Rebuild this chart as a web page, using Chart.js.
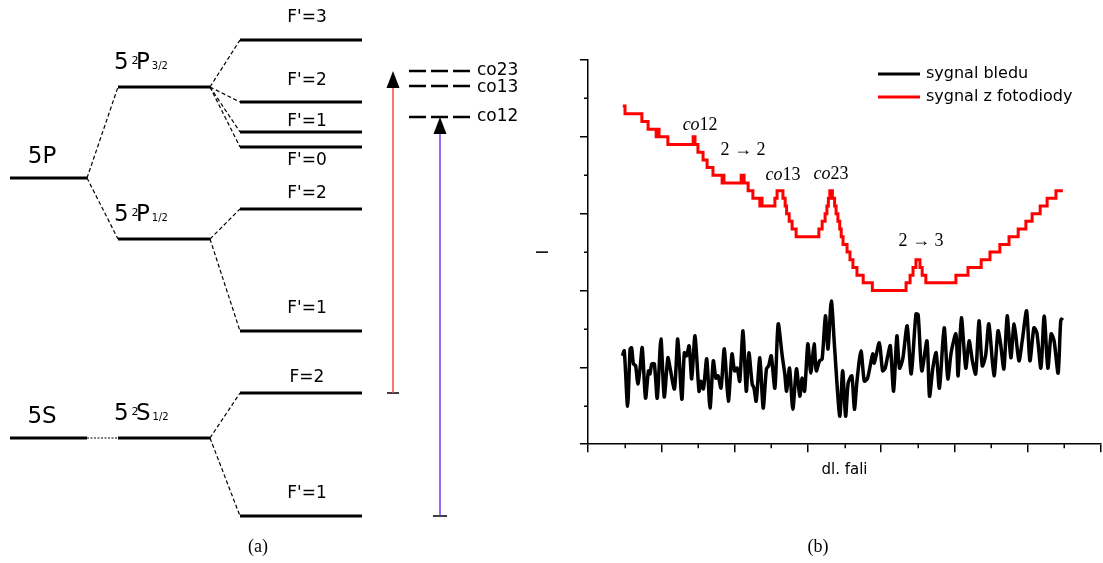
<!DOCTYPE html>
<html>
<head>
<meta charset="utf-8">
<script src="https://cdn.jsdelivr.net/npm/chart.js@4.4.1/dist/chart.umd.min.js"></script>
<style>
  html, body { margin: 0; padding: 0; background: #fff; }
  #wrap { position: relative; width: 1103px; height: 563px; overflow: hidden; }
  #levels { position: absolute; left: 0; top: 0; }
  #signal { position: absolute; left: 520px; top: 0; }
  .cap { position: absolute; top: 536px; width: 60px; text-align: center;
         font: 18px 'Liberation Serif', 'DejaVu Serif', serif; line-height: 20px; }
</style>
</head>
<body>
<div id="wrap">
  <canvas id="levels" width="530" height="563" style="width:530px;height:563px"></canvas>
  <canvas id="signal" width="583" height="563" style="width:583px;height:563px"></canvas>
  <div class="cap" style="left:228px">(a)</div>
  <div class="cap" style="left:788px">(b)</div>
</div>
<script>
const sans = "'DejaVu Sans', sans-serif"
const serif = "'Liberation Serif', 'DejaVu Serif', serif"

// ---- (a) level scheme, energies in arbitrary units (up = higher) ----
const termNames = ["5P", "5S"]
const termEnergy = [385, 125]
const fineNames = [["P", "3/2"], ["P", "1/2"], ["S", "1/2"]]
const fineEnergy = [476, 324, 125]
const fineParent = [0, 0, 1]
const hfsNames = ["F'=3", "F'=2", "F'=1", "F'=0", "F'=2", "F'=1", "F=2", "F'=1"]
const hfsEnergy = [523, 461, 431, 416, 354, 232, 170, 47]
const hfsParent = [0, 0, 0, 0, 1, 1, 2, 2]
const crossNames = ["co23", "co13", "co12"]
const crossEnergy = [492, 477, 446]

// ---- (b) spectra ----
const blackX = [9.4, 9.9, 10.8, 11.5, 11.9, 12.4, 13.0, 13.6, 14.2, 14.8,
  15.7, 16.5, 16.9, 17.4, 18.1, 18.9, 19.9, 20.8, 21.8, 22.4,
  23.6, 24.5, 25.6, 26.3, 26.9, 27.6, 28.3, 29.2, 30.3, 30.8,
  31.5, 32.4, 33.3, 34.2, 34.9, 35.5, 36.3, 37.2, 38.3, 39.3,
  40.0, 40.7, 41.4, 42.3, 43.2, 43.9, 44.8, 45.3, 45.9, 46.9,
  47.8, 48.7, 49.3, 50.0, 51.0, 51.9, 53.0, 53.7, 54.2, 55.0,
  55.9, 56.9, 57.8, 58.4, 59.1, 60.0, 60.8, 61.7, 62.3, 63.2,
  63.9, 64.8, 65.5, 66.4, 67.3, 68.7, 69.5, 70.3, 71.0, 72.0,
  72.7, 73.4, 74.5, 75.4, 76.3, 77.7, 78.1, 79.5, 80.4, 81.1,
  81.8, 82.5, 83.4, 84.3, 85.0, 85.9, 87.1, 88.2, 89.5, 90.1,
  91.1, 92.5, 93.2, 94.1, 95.0, 95.9, 97.2, 98.2, 99.1, 100.4,
  101.0, 101.9, 103.1, 104.0, 104.9, 105.8, 106.7, 107.6, 108.5, 109.4,
  110.8, 111.9, 112.6, 113.5, 114.4, 115.4, 116.3, 117.6, 118.5, 119.7,
  120.6, 121.7, 122.5, 123.6, 124.5, 125.5, 126.4, 127.2, 128.3, 129.0,
  129.5]
const blackY = [2.30, 2.43, 0.99, 2.48, 2.51, 2.09, 2.04, 1.57, 1.96, 2.51,
  1.20, 1.91, 1.83, 2.09, 2.09, 1.20, 2.74, 1.23, 2.25, 1.98,
  1.44, 2.74, 1.17, 2.38, 2.30, 2.56, 1.70, 2.82, 1.38, 1.64,
  1.44, 2.22, 0.94, 2.17, 1.72, 1.78, 1.46, 2.48, 1.12, 2.35,
  1.91, 1.98, 1.64, 2.95, 1.38, 2.38, 1.57, 1.46, 1.12, 2.25,
  0.94, 1.96, 2.04, 2.30, 1.46, 3.13, 2.30, 1.83, 1.38, 1.98,
  0.91, 1.96, 1.25, 1.72, 1.38, 2.61, 1.85, 2.61, 1.91, 2.17,
  2.22, 3.34, 2.48, 3.73, 2.51, 0.73, 1.91, 0.73, 1.59, 1.78,
  0.91, 1.64, 2.43, 1.64, 1.72, 2.35, 2.11, 2.64, 1.91, 1.98,
  2.30, 2.56, 1.38, 2.82, 1.98, 2.22, 3.08, 1.83, 3.39, 3.37,
  1.91, 2.69, 1.25, 1.98, 2.38, 1.46, 3.03, 1.70, 2.38, 2.87,
  1.78, 3.29, 1.98, 2.69, 2.17, 1.83, 3.21, 2.04, 2.30, 3.13,
  1.78, 2.95, 2.61, 1.96, 3.34, 2.25, 3.13, 2.17, 2.69, 3.47,
  2.17, 3.03, 2.90, 1.98, 3.34, 1.98, 2.87, 2.69, 1.85, 3.21,
  3.29]
// photodiode signal is quantised, each point = where a new level starts
const redX = [9.5, 10.1, 14.7, 16.4, 18.6, 19.1, 19.4, 21.8, 28.7, 29.2,
  30.0, 31.4, 32.5, 34.1, 36.6, 36.8, 37.1, 41.8, 42.6, 43.7,
  45.0, 46.9, 47.2, 47.5, 51.0, 51.6, 53.2, 53.8, 54.2, 54.9,
  55.7, 56.8, 63.0, 63.9, 64.7, 65.2, 65.6, 66.0, 66.7, 67.3,
  67.7, 68.2, 68.7, 69.1, 69.6, 70.7, 71.5, 72.3, 73.4, 75.1,
  77.6, 86.8, 87.9, 88.7, 89.5, 90.6, 91.2, 92.2, 100.4, 103.7,
  107.3, 109.7, 112.4, 114.9, 117.4, 119.5, 121.2, 123.4, 125.3, 127.7,
  129.6]
const redY = [8.8, 8.6, 8.4, 8.2, 8.0, 8.2, 8.0, 7.8, 8.0, 7.8,
  7.6, 7.4, 7.2, 7.0, 6.8, 7.0, 6.8, 7.0, 6.8, 6.6,
  6.4, 6.2, 6.4, 6.2, 6.4, 6.6, 6.4, 6.2, 6.0, 5.8,
  5.6, 5.4, 5.6, 5.8, 6.0, 6.2, 6.4, 6.6, 6.4, 6.2,
  6.0, 5.8, 5.6, 5.4, 5.2, 5.0, 4.8, 4.6, 4.4, 4.2,
  4.0, 4.2, 4.4, 4.6, 4.8, 4.6, 4.4, 4.2, 4.4, 4.6,
  4.8, 5.0, 5.2, 5.4, 5.6, 5.8, 6.0, 6.2, 6.4, 6.6,
  6.6]
const noteText = [["co", "12"], ["", "2 \u2192 2"], ["co", "13"], ["co", "23"], ["", "2 \u2192 3"]]
const noteX = [30.6, 42.3, 53.2, 66.3, 90.9]
const noteY = [8.3, 7.65, 7.0, 7.02, 5.27]

// ---------------- (a) ----------------
// horizontal columns of the scheme
const colTerm = [10, 87], colFine = [118, 210], colHfs = [240, 362], colCross = [409, 470]
const redLaserX = 393, blueLaserX = 440
const hfsLabelDy = [22, 21, 10, -14, 15, 22, 15, 22]
const crossLabelDy = [0, 2, 0]

const seg = (x0, y0, x1, y1, style) => Object.assign({
  data: [{ x: x0, y: y0 }, { x: x1, y: y1 }],
  showLine: true, pointRadius: 0, borderColor: "#000", borderWidth: 3, fill: false
}, style)
const dashed = { borderWidth: 1.2, borderDash: [4, 2.5] }

const levelSets = []
termEnergy.forEach(e => levelSets.push(seg(colTerm[0], e, colTerm[1], e)))
fineEnergy.forEach((e, i) => {
  levelSets.push(seg(colFine[0], e, colFine[1], e))
  const pe = termEnergy[fineParent[i]]
  levelSets.push(seg(colTerm[1], pe, colFine[0], e, pe === e ? { borderWidth: 1.2, borderDash: [2, 1.5] } : dashed))
})
hfsEnergy.forEach((e, i) => {
  levelSets.push(seg(colHfs[0], e, colHfs[1], e))
  levelSets.push(seg(colFine[1], fineEnergy[hfsParent[i]], colHfs[0], e, dashed))
})
crossEnergy.forEach(e => levelSets.push(seg(colCross[0], e, colCross[1], e, { borderWidth: 2.5, borderDash: [17, 5] })))
// lasers
levelSets.push(seg(redLaserX, hfsEnergy[6], redLaserX, crossEnergy[0] - 10, { borderWidth: 1.5, borderColor: "#ff4545" }))
levelSets.push(seg(blueLaserX, hfsEnergy[7], blueLaserX, crossEnergy[2] - 10, { borderWidth: 1.5, borderColor: "#7438ff" }))
levelSets.push(seg(redLaserX - 6, hfsEnergy[6], redLaserX + 6, hfsEnergy[6], { borderWidth: 1.5 }))
levelSets.push(seg(blueLaserX - 7, hfsEnergy[7], blueLaserX + 7, hfsEnergy[7], { borderWidth: 1.5 }))

const levelText = {
  id: "levelText",
  afterDatasetsDraw(chart) {
    const { ctx, scales: { x, y } } = chart
    const px = v => x.getPixelForValue(v)
    const py = v => y.getPixelForValue(v)
    ctx.save()
    ctx.fillStyle = "#000"

    // arrow heads
    ;[[redLaserX, crossEnergy[0]], [blueLaserX, crossEnergy[2]]].forEach(([ax, ae]) => {
      const tx = px(ax), ty = py(ae)
      ctx.beginPath()
      ctx.moveTo(tx, ty)
      ctx.lineTo(tx - 6.5, ty + 17)
      ctx.lineTo(tx + 6.5, ty + 17)
      ctx.closePath()
      ctx.fill()
    })

    ctx.font = "23px " + sans
    ctx.textAlign = "center"
    ctx.textBaseline = "middle"
    termNames.forEach((t, i) => ctx.fillText(t, px(42), py(termEnergy[i]) - 21))

    // 5 ^2 L_J
    ctx.textAlign = "left"
    ctx.textBaseline = "alphabetic"
    fineNames.forEach(([l, j], i) => {
      const x0 = px(114), base = py(fineEnergy[i]) - 18
      ctx.font = "23px " + sans
      ctx.fillText("5", x0, base)
      ctx.font = "11px " + sans
      ctx.fillText("2", x0 + 17.5, base - 5)
      ctx.font = "23px " + sans
      ctx.fillText(l, x0 + 22, base)
      const w = ctx.measureText(l).width
      ctx.font = "10px " + sans
      ctx.fillText(j, x0 + 22 + w + 2, base)
    })

    ctx.font = "17px " + sans
    ctx.textAlign = "center"
    ctx.textBaseline = "middle"
    hfsNames.forEach((t, i) => ctx.fillText(t, px(307), py(hfsEnergy[i]) - hfsLabelDy[i]))

    ctx.textAlign = "left"
    crossNames.forEach((t, i) => ctx.fillText(t, px(477), py(crossEnergy[i]) + crossLabelDy[i]))
    ctx.restore()
  }
}

new Chart(document.getElementById("levels"), {
  type: "scatter",
  data: { datasets: levelSets },
  options: {
    responsive: false,
    animation: false,
    layout: { padding: 0, autoPadding: false },
    plugins: { legend: { display: false }, tooltip: { enabled: false } },
    scales: {
      x: { type: "linear", display: false, min: 0, max: 530 },
      y: { type: "linear", display: false, min: 0, max: 563 }
    }
  },
  plugins: [levelText]
})

// ---------------- (b) ----------------
const minorTicks = {
  id: "minorTicks",
  afterDraw(chart) {
    const { ctx, chartArea, scales: { x, y } } = chart
    ctx.save()
    ctx.strokeStyle = "#000"
    ctx.lineWidth = 1.5
    ctx.beginPath()
    for (let v = 10; v < 140; v += 20) {
      const p = Math.round(x.getPixelForValue(v)) + 0.25
      ctx.moveTo(p, chartArea.bottom)
      ctx.lineTo(p, chartArea.bottom + 4)
    }
    for (let v = 1; v < 10; v += 2) {
      const p = Math.round(y.getPixelForValue(v)) + 0.25
      ctx.moveTo(chartArea.left - 4, p)
      ctx.lineTo(chartArea.left, p)
    }
    ctx.stroke()
    ctx.restore()
  }
}

const notesAndLegend = {
  id: "notesAndLegend",
  afterDatasetsDraw(chart) {
    const { ctx, chartArea, scales: { x, y } } = chart
    ctx.save()
    ctx.fillStyle = "#000"
    ctx.textBaseline = "middle"
    ctx.textAlign = "left"
    const it = "italic 18px " + serif, rm = "18px " + serif
    noteText.forEach(([a, b], i) => {
      ctx.font = it
      const wa = ctx.measureText(a).width
      ctx.font = rm
      const wb = ctx.measureText(b).width
      const x0 = x.getPixelForValue(noteX[i]) - (wa + wb) / 2
      const y0 = y.getPixelForValue(noteY[i])
      ctx.font = it
      ctx.fillText(a, x0, y0)
      ctx.font = rm
      ctx.fillText(b, x0 + wa, y0)
    })

    // legend
    ctx.font = "16px " + sans
    chart.data.datasets.forEach((ds, i) => {
      const ly = chartArea.top + 14 + i * 23
      const lx = chartArea.left + 290
      ctx.strokeStyle = ds.borderColor
      ctx.lineWidth = 3
      ctx.beginPath()
      ctx.moveTo(lx, ly)
      ctx.lineTo(lx + 42, ly)
      ctx.stroke()
      ctx.fillText(ds.label, lx + 48, ly)
    })
    ctx.restore()
  }
}

const axisLine = { color: "#000", width: 1.5 }
const axisGrid = { drawOnChartArea: false, color: "#000", lineWidth: 1.5, tickLength: 8 }

new Chart(document.getElementById("signal"), {
  type: "line",
  data: {
    datasets: [
      {
        label: "sygnal bledu",
        data: blackX.map((v, i) => ({ x: v, y: blackY[i] })),
        borderColor: "#000",
        borderWidth: 3.5,
        tension: 0.25,
        pointRadius: 0
      },
      {
        label: "sygnal z fotodiody",
        data: redX.map((v, i) => ({ x: v, y: redY[i] })),
        borderColor: "#ff0000",
        borderWidth: 3,
        stepped: true,
        pointRadius: 0
      }
    ]
  },
  options: {
    responsive: false,
    animation: false,
    layout: { padding: { left: 12.4, top: 60, right: 2, bottom: 83.4 }, autoPadding: false },
    plugins: { legend: { display: false }, tooltip: { enabled: false } },
    scales: {
      x: {
        type: "linear", min: 0, max: 140,
        ticks: { display: false, stepSize: 20 },
        grid: axisGrid, border: axisLine,
        title: { display: true, text: "dl. fali", color: "#000", font: { family: sans, size: 15 }, padding: { top: 9.4, bottom: 0 } }
      },
      y: {
        type: "linear", min: 0, max: 10,
        ticks: { display: false, stepSize: 2 },
        grid: axisGrid, border: axisLine,
        title: { display: true, text: "I", color: "#000", font: { family: sans, size: 16 }, padding: { top: 2, bottom: 26.4 } }
      }
    }
  },
  plugins: [minorTicks, notesAndLegend]
})
</script>
</body>
</html>
